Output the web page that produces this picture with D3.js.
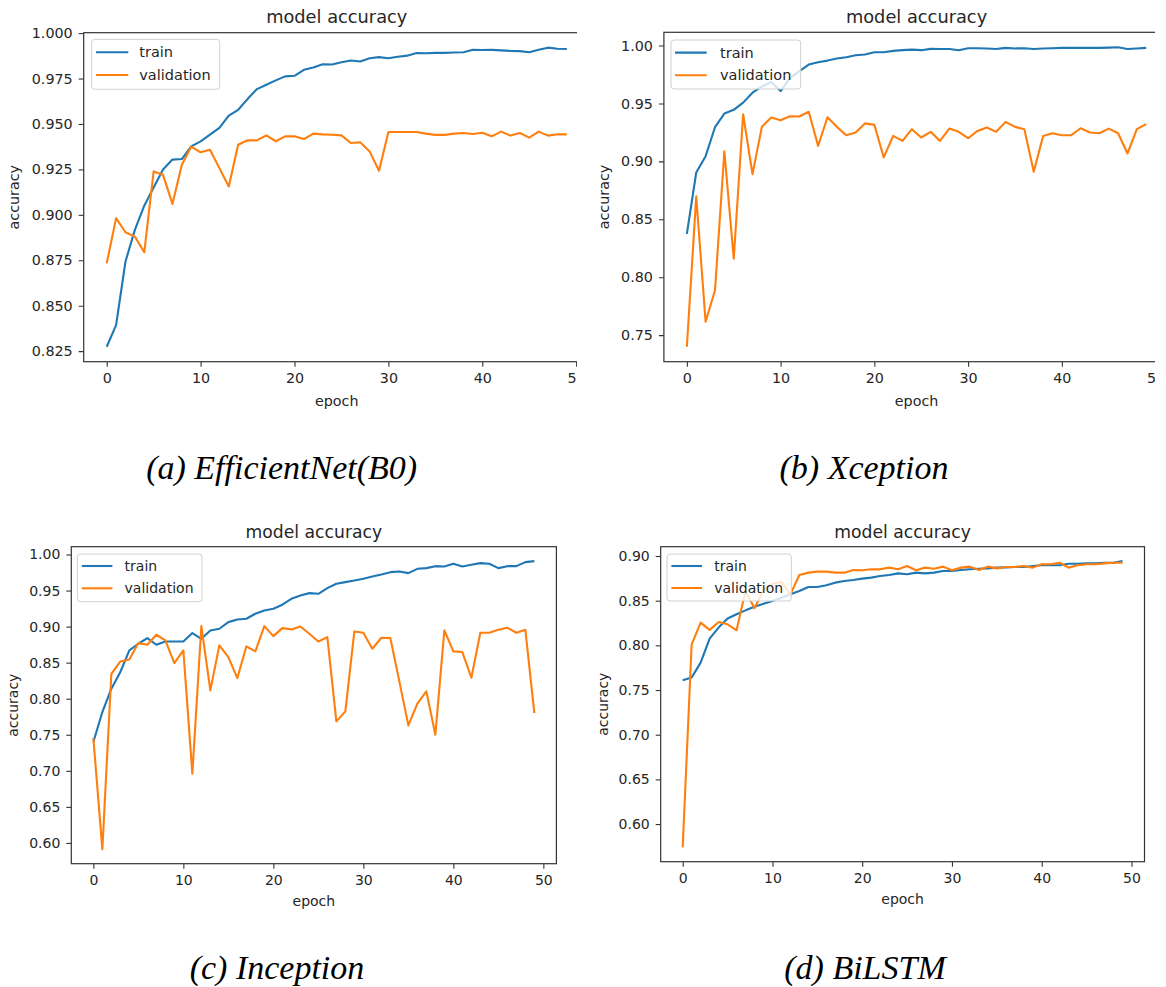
<!DOCTYPE html>
<html><head><meta charset="utf-8">
<script src="https://cdn.jsdelivr.net/npm/d3@7"></script>
<style>
body{margin:0;background:#fff;}
svg{display:block;}
</style></head>
<body>
<svg id="chart" width="1166" height="987"></svg>
<script>
// ---------- data ----------
const xTicks = [0, 10, 20, 30, 40, 50];
const seriesNames = ["train", "validation"];
const titleText = "model accuracy";
const xLabel = "epoch";
const yLabel = "accuracy";
const captions = ["(a) EfficientNet(B0)", "(b) Xception", "(c) Inception", "(d) BiLSTM"];

const yTicksA = [0.825, 0.850, 0.875, 0.900, 0.925, 0.950, 0.975, 1.000];
const yTicksB = [0.75, 0.80, 0.85, 0.90, 0.95, 1.00];
const yTicksC = [0.60, 0.65, 0.70, 0.75, 0.80, 0.85, 0.90, 0.95, 1.00];
const yTicksD = [0.60, 0.65, 0.70, 0.75, 0.80, 0.85, 0.90];

const effTrain = [0.8274,0.8393,0.8743,0.8917,0.905,0.915,0.9249,0.9304,0.9307,0.9377,0.9404,0.9441,0.9478,0.9546,0.9578,0.9637,0.9692,0.9716,0.974,0.9762,0.9765,0.9798,0.9811,0.9828,0.9827,0.984,0.9849,0.9844,0.9862,0.9868,0.9862,0.987,0.9876,0.989,0.9889,0.9891,0.9891,0.9893,0.9895,0.9908,0.9907,0.9908,0.9905,0.9902,0.9901,0.9895,0.9908,0.992,0.9914,0.9913];
const effVal = [0.8733,0.8982,0.8904,0.888,0.8794,0.9239,0.922,0.906,0.9276,0.9375,0.9344,0.9358,0.9257,0.9156,0.9386,0.941,0.941,0.9437,0.9405,0.9432,0.9432,0.9417,0.9447,0.9443,0.9441,0.9437,0.9395,0.9399,0.9349,0.9243,0.9456,0.9456,0.9456,0.9456,0.9447,0.944,0.944,0.9447,0.945,0.9445,0.9452,0.9432,0.9458,0.9436,0.945,0.9425,0.9458,0.9436,0.9443,0.9443];

const xcpTrain = [0.8374,0.8904,0.9045,0.9295,0.9413,0.9445,0.9507,0.9593,0.9647,0.9685,0.9607,0.9721,0.9779,0.9836,0.9856,0.987,0.9888,0.9899,0.9916,0.9922,0.9942,0.9942,0.9954,0.996,0.9965,0.996,0.9971,0.997,0.997,0.996,0.9977,0.9977,0.9975,0.997,0.998,0.9975,0.9977,0.997,0.9975,0.9977,0.998,0.998,0.998,0.998,0.998,0.9982,0.9985,0.997,0.9975,0.998];
const xcpVal = [0.74,0.8698,0.7615,0.7887,0.9087,0.816,0.9407,0.889,0.9298,0.9378,0.9355,0.9389,0.9387,0.9428,0.9134,0.9381,0.9298,0.9226,0.9249,0.9328,0.9315,0.9034,0.922,0.9177,0.9278,0.9206,0.9255,0.9177,0.9283,0.9255,0.92,0.9263,0.9292,0.9255,0.9341,0.9298,0.9278,0.891,0.922,0.9243,0.9226,0.9226,0.9286,0.9249,0.9243,0.9283,0.9243,0.9068,0.9278,0.9321];

const incTrain = [0.74,0.7815,0.8139,0.837,0.867,0.8762,0.8841,0.8748,0.8794,0.8794,0.8794,0.891,0.8831,0.8947,0.897,0.9062,0.9099,0.9109,0.9178,0.9224,0.9247,0.9303,0.9386,0.9432,0.9464,0.9455,0.9533,0.9594,0.9617,0.964,0.9663,0.9695,0.9723,0.9755,0.9764,0.9741,0.9801,0.9811,0.9838,0.9834,0.9871,0.9834,0.9857,0.988,0.9871,0.9811,0.9838,0.9838,0.9894,0.9908];
const incVal = [0.7455,0.5912,0.8346,0.8517,0.8545,0.8771,0.8748,0.8887,0.8808,0.8494,0.867,0.6961,0.9007,0.8115,0.8739,0.8577,0.8286,0.8725,0.8656,0.9007,0.8868,0.8979,0.8961,0.9002,0.8901,0.8794,0.8854,0.7686,0.7824,0.8933,0.8915,0.8693,0.8845,0.8841,0.824,0.763,0.7931,0.8102,0.7501,0.8947,0.8656,0.8647,0.8291,0.8915,0.8915,0.8956,0.8984,0.8915,0.8956,0.7801];

const lstmTrain = [0.761,0.764,0.7807,0.8076,0.8199,0.83,0.8348,0.8392,0.8433,0.8467,0.8497,0.8534,0.8571,0.8609,0.8653,0.8653,0.8672,0.8702,0.872,0.8732,0.8747,0.8758,0.8776,0.8788,0.8806,0.8795,0.8814,0.8806,0.8814,0.8832,0.8832,0.8843,0.8851,0.8858,0.8862,0.887,0.8873,0.8877,0.8877,0.8888,0.8896,0.8896,0.8896,0.8914,0.8914,0.8918,0.8918,0.8925,0.8925,0.8944];
const lstmVal = [0.5739,0.8012,0.8255,0.8173,0.8262,0.8236,0.8169,0.8609,0.8415,0.862,0.869,0.871,0.857,0.8788,0.8814,0.8825,0.8825,0.8814,0.8814,0.8843,0.884,0.8851,0.8851,0.887,0.8851,0.8888,0.884,0.887,0.8858,0.8881,0.884,0.887,0.8881,0.8843,0.8881,0.8862,0.8877,0.8877,0.8888,0.887,0.8907,0.8907,0.8925,0.887,0.8896,0.8907,0.8907,0.8918,0.8925,0.8925];

// ---------- layout ----------
const colors = ["#1f77b4", "#ff7f0e"];
const panels = [
  {train: effTrain, val: effVal, yTicks: yTicksA, fmt: ".3f", caption: captions[0],
   L: 83.7, R: 589.8, T: 32.7, B: 361.7, clipR: 577, fs: 14.3, tfs: 17.8, lfs: 14.5,
   titleY: 23, xlabY: 406, ylabX: 18.6, leg: {x: 91.7, y: 39.3, w: 128, h: 50, l1: 4.3, l2: 36.6, t: 47.6, r1: 13, r2: 35.7},
   capX: 281.7, capY: 479},
  {train: xcpTrain, val: xcpVal, yTicks: yTicksB, fmt: ".2f", caption: captions[1],
   L: 663.9, R: 1169.2, T: 32.3, B: 361.7, clipR: 1155, fs: 14.3, tfs: 17.8, lfs: 14.5,
   titleY: 23, xlabY: 406, ylabX: 609.2, leg: {x: 671, y: 40, w: 129.7, h: 49, l1: 4, l2: 35.7, t: 49, r1: 12.6, r2: 35.3},
   capX: 864, capY: 479},
  {train: incTrain, val: incVal, yTicks: yTicksC, fmt: ".2f", caption: captions[2],
   L: 71.3, R: 556.4, T: 546.7, B: 863.7, clipR: null, fs: 14, tfs: 17.2, lfs: 14,
   titleY: 538, xlabY: 906, ylabX: 17.8, leg: {x: 77.4, y: 554, w: 124.6, h: 47.7, l1: 4.4, l2: 35, t: 47.2, r1: 12, r2: 34.3},
   capX: 277, capY: 979},
  {train: lstmTrain, val: lstmVal, yTicks: yTicksD, fmt: ".2f", caption: captions[3],
   L: 660.7, R: 1144.5, T: 546.7, B: 861.7, clipR: null, fs: 14, tfs: 17.2, lfs: 14,
   titleY: 538, xlabY: 903.5, ylabX: 608.1, leg: {x: 667, y: 554, w: 124.3, h: 47, l1: 4.4, l2: 35, t: 47.2, r1: 12, r2: 34},
   capX: 865, capY: 979}
];

const svg = d3.select("#chart");
const FONT = "DejaVu Sans, sans-serif";
const TXT = "#262626";
const SPINE = "#333";

panels.forEach((p, i) => {
  const all = p.train.concat(p.val);
  const ext = d3.extent(all);
  const pad = (ext[1] - ext[0]) * 0.05;
  const n = p.train.length;
  const xpad = (n - 1) * 0.05;
  const x = d3.scaleLinear().domain([-xpad, n - 1 + xpad]).range([p.L, p.R]);
  const y = d3.scaleLinear().domain([ext[0] - pad, ext[1] + pad]).range([p.B, p.T]);

  let g = svg.append("g");
  if (p.clipR !== null) {
    const id = "clip" + i;
    svg.append("clipPath").attr("id", id).append("rect")
      .attr("x", p.L - 90).attr("y", p.T - 40).attr("width", p.clipR - (p.L - 90)).attr("height", p.B - p.T + 100);
    g.attr("clip-path", `url(#${id})`);
  }

  // lines
  const line = d3.line().x((d, k) => x(k)).y(d => y(d));
  [p.train, p.val].forEach((s, k) => {
    g.append("path").datum(s).attr("d", line)
      .attr("fill", "none").attr("stroke", colors[k]).attr("stroke-width", 2.1)
      .attr("stroke-linejoin", "round");
  });

  // axes
  const xa = g.append("g").attr("transform", `translate(0,${p.B})`)
    .call(d3.axisBottom(x).tickValues(xTicks).tickSize(5).tickPadding(6).tickFormat(d3.format("d")));
  const ya = g.append("g").attr("transform", `translate(${p.L},0)`)
    .call(d3.axisLeft(y).tickValues(p.yTicks).tickSize(5).tickPadding(6).tickFormat(d3.format(p.fmt)));
  [xa, ya].forEach(a => {
    a.select(".domain").remove();
    a.selectAll(".tick line").attr("stroke", SPINE).attr("stroke-width", 1.1);
    a.selectAll(".tick text").attr("fill", TXT).style("font-family", FONT).style("font-size", p.fs + "px");
  });

  // spines
  g.append("rect").attr("x", p.L).attr("y", p.T).attr("width", p.R - p.L).attr("height", p.B - p.T)
    .attr("fill", "none").attr("stroke", SPINE).attr("stroke-width", 1.2);

  // legend
  const lg = g.append("g").attr("transform", `translate(${p.leg.x},${p.leg.y})`);
  lg.append("rect").attr("width", p.leg.w).attr("height", p.leg.h).attr("rx", 3)
    .attr("fill", "#fff").attr("fill-opacity", 0.8).attr("stroke", "#d0d0d0").attr("stroke-width", 1);
  seriesNames.forEach((nm, k) => {
    const yy = k === 0 ? p.leg.r1 : p.leg.r2;
    lg.append("line").attr("x1", p.leg.l1).attr("x2", p.leg.l2).attr("y1", yy).attr("y2", yy)
      .attr("stroke", colors[k]).attr("stroke-width", 2.1);
    lg.append("text").attr("x", p.leg.t).attr("y", yy).attr("dy", "0.35em")
      .attr("fill", TXT).style("font-family", FONT).style("font-size", p.lfs + "px").text(nm);
  });

  // labels
  const cx = (p.L + p.R) / 2;
  svg.append("text").attr("x", cx).attr("y", p.titleY).attr("text-anchor", "middle")
    .attr("fill", TXT).style("font-family", FONT).style("font-size", p.tfs + "px").text(titleText);
  g.append("text").attr("x", cx).attr("y", p.xlabY).attr("text-anchor", "middle")
    .attr("fill", TXT).style("font-family", FONT).style("font-size", p.fs + "px").text(xLabel);
  svg.append("text").attr("transform", `translate(${p.ylabX},${(p.T + p.B) / 2}) rotate(-90)`)
    .attr("text-anchor", "middle").attr("fill", TXT).style("font-family", FONT).style("font-size", p.fs + "px").text(yLabel);

  // caption
  svg.append("text").attr("x", p.capX).attr("y", p.capY).attr("text-anchor", "middle")
    .attr("fill", "#000").style("font-family", "'Liberation Serif', 'Times New Roman', serif")
    .style("font-style", "italic").style("font-size", "34px").text(p.caption);
});
</script>
</body></html>
